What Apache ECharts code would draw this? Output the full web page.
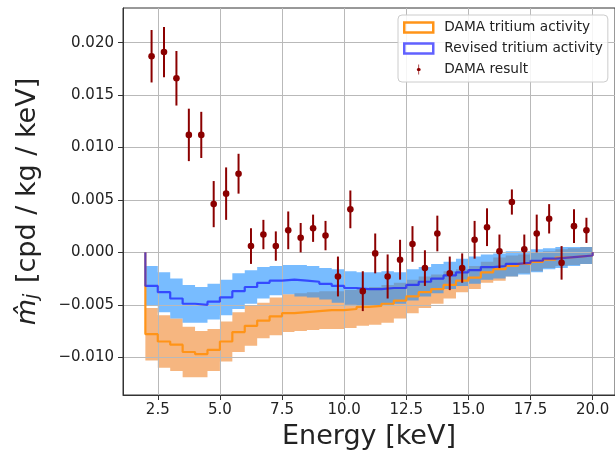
<!DOCTYPE html>
<html>
<head>
<meta charset="utf-8">
<title>DAMA modulation vs tritium</title>
<script src="https://cdn.jsdelivr.net/npm/echarts@6/dist/echarts.min.js"></script>
<style>
  *{margin:0;padding:0;}
  body{background:#fff;}
  #chart{width:615px;height:455px;}
</style>
</head>
<body>
<div id="chart"></div>
<script>
// bin centres [keV], bins are 0.5 keV wide
var energy = [2.25, 2.75, 3.25, 3.75, 4.25, 4.75, 5.25, 5.75, 6.25, 6.75, 7.25, 7.75,
              8.25, 8.75, 9.25, 9.75, 10.25, 10.75, 11.25, 11.75, 12.25, 12.75, 13.25, 13.75,
              14.25, 14.75, 15.25, 15.75, 16.25, 16.75, 17.25, 17.75, 18.25, 18.75, 19.25, 19.75];
var binHalf = 0.25;

// DAMA modulation amplitudes
var damaRate = [0.0187, 0.0191, 0.0166, 0.0112, 0.0112, 0.0046, 0.0056, 0.0075, 0.0006, 0.0017, 0.0006, 0.0021,
                0.0014, 0.0023, 0.0016, -0.0023, 0.0041, -0.0037, -0.0001, -0.0023, -0.0007, 0.0008, -0.0015, 0.0018,
                -0.0020, -0.0015, 0.0012, 0.0024, 0.0001, 0.0048, 0.0003, 0.0018, 0.0032, -0.0010, 0.0025, 0.0021];
var damaErr = [0.0025, 0.0024, 0.0026, 0.0025, 0.0022, 0.0022, 0.0025, 0.0019, 0.0017, 0.0014, 0.0014, 0.0018,
               0.0014, 0.0013, 0.0014, 0.0019, 0.0018, 0.0019, 0.0019, 0.0021, 0.0019, 0.0017, 0.0017, 0.0017,
               0.0016, 0.0014, 0.0018, 0.0018, 0.0016, 0.0012, 0.0014, 0.0018, 0.0014, 0.0016, 0.0016, 0.0012];

// tritium expectation with DAMA activity
var damaTritium = [-0.0078, -0.0085, -0.0088, -0.0095, -0.0097, -0.0093, -0.0085, -0.0076, -0.0070, -0.0065, -0.0061, -0.0058,
                   -0.0057, -0.0056, -0.0055, -0.0055, -0.0054, -0.0052, -0.0051, -0.0049, -0.0046, -0.0042, -0.0038, -0.0035,
                   -0.0031, -0.0027, -0.0024, -0.0019, -0.0016, -0.0013, -0.0011, -0.0009, -0.0007, -0.0005, -0.0004, -0.0003];
var damaTritiumErr = [0.0025, 0.0025, 0.0025, 0.0024, 0.0022, 0.0020, 0.0019, 0.0019, 0.0019, 0.0017, 0.0018, 0.0018,
                      0.0018, 0.0018, 0.0018, 0.0018, 0.0018, 0.0018, 0.0018, 0.0018, 0.0017, 0.0016, 0.0015, 0.0014,
                      0.0013, 0.0011, 0.0011, 0.0010, 0.0011, 0.0010, 0.0009, 0.0009, 0.0008, 0.0008, 0.0008, 0.0008];

// tritium expectation with revised activity
var revisedTritium = [-0.0032, -0.0038, -0.0044, -0.0049, -0.0050, -0.0047, -0.0043, -0.0037, -0.0033, -0.0029, -0.0027, -0.0026,
                      -0.0027, -0.0028, -0.0030, -0.0032, -0.0034, -0.0035, -0.0035, -0.0034, -0.0034, -0.0031, -0.0028, -0.0025,
                      -0.0022, -0.0019, -0.0017, -0.0014, -0.0013, -0.0011, -0.0010, -0.0008, -0.0006, -0.0005, -0.0004, -0.0003];
var revisedTritiumErr = [0.0019, 0.0019, 0.0019, 0.0018, 0.0017, 0.0017, 0.0017, 0.0017, 0.0016, 0.0015, 0.0014, 0.0014,
                         0.0015, 0.0015, 0.0015, 0.0016, 0.0016, 0.0016, 0.0016, 0.0016, 0.0015, 0.0015, 0.0014, 0.0014,
                         0.0013, 0.0013, 0.0013, 0.0012, 0.0012, 0.0012, 0.0011, 0.0011, 0.0010, 0.0010, 0.0009, 0.0008];

var xTicks = [2.5, 5, 7.5, 10, 12.5, 15, 17.5, 20];
var yTicks = [-0.010, -0.005, 0, 0.005, 0.010, 0.015, 0.020];

var FONT = 'DejaVu Sans';
var ORANGE = '#ff9418';
var BLUE = 'rgba(20,20,255,0.68)';
var DARKRED = '#8b0000';

// histogram style outline: starts and ends at zero
function stepLine(vals) {
    var pts = [[energy[0] - binHalf, 0]];
    for (var i = 0; i < energy.length; i++) {
        pts.push([energy[i] - binHalf, vals[i]]);
        pts.push([energy[i] + binHalf, vals[i]]);
    }
    pts.push([energy[energy.length - 1] + binHalf, 0]);
    return pts;
}

// filled step band drawn as one polygon
function bandSeries(vals, errs, fill, z) {
    return {
        type: 'custom',
        z: z,
        silent: true,
        clip: true,
        data: energy.map(function (e, i) { return [e, vals[i], errs[i]]; }),
        renderItem: function (params, api) {
            if (params.dataIndex !== 0) return null;
            var top = [], bot = [];
            for (var i = 0; i < energy.length; i++) {
                var x0 = energy[i] - binHalf, x1 = energy[i] + binHalf;
                top.push(api.coord([x0, vals[i] + errs[i]]), api.coord([x1, vals[i] + errs[i]]));
                bot.push(api.coord([x0, vals[i] - errs[i]]), api.coord([x1, vals[i] - errs[i]]));
            }
            return {
                type: 'polygon',
                shape: { points: top.concat(bot.reverse()) },
                style: { fill: fill }
            };
        }
    };
}

var chart = echarts.init(document.getElementById('chart'), null, { renderer: 'canvas' });

var option = {
    animation: false,
    backgroundColor: '#fff',
    grid: {
        left: 123, top: 8, width: 493, height: 389,
        show: true, borderColor: '#333', borderWidth: 1, backgroundColor: 'transparent'
    },
    legend: {
        orient: 'vertical',
        left: 398, top: 15,
        padding: [5, 5, 5, 5],
        itemWidth: 29, itemHeight: 10, itemGap: 6,
        backgroundColor: 'rgba(255,255,255,0.85)',
        borderColor: '#cccccc', borderWidth: 1, borderRadius: 4,
        selectedMode: false,
        textStyle: { fontFamily: FONT, fontSize: 13.7, color: '#222', lineHeight: 15, padding: [0, 0, 0, 6] },
        data: [
            { name: 'DAMA tritium activity', icon: 'rect',
              itemStyle: { color: 'rgba(0,0,0,0)', borderColor: ORANGE, borderWidth: 2.5 } },
            { name: 'Revised tritium activity', icon: 'rect',
              itemStyle: { color: 'rgba(0,0,0,0)', borderColor: 'rgba(80,80,255,0.9)', borderWidth: 2.5 } },
            { name: 'DAMA result',
              icon: 'path://M4.3,0h1.4v6.8a3.2,3.2 0 0 1 0,6.4v6.8h-1.4v-6.8a3.2,3.2 0 0 1 0,-6.4z',
              itemStyle: { color: DARKRED } }
        ]
    },
    xAxis: {
        type: 'value',
        min: 1.1, max: 20.9,
        name: 'Energy [keV]',
        nameLocation: 'middle',
        nameGap: 28,
        nameTextStyle: { fontFamily: FONT, fontSize: 27, color: '#222' },
        axisLine: { show: true, onZero: false, lineStyle: { color: '#333', width: 1 } },
        axisTick: { show: true, length: 5, customValues: xTicks, lineStyle: { color: '#333' } },
        axisLabel: {
            customValues: xTicks, margin: 8,
            fontFamily: FONT, fontSize: 15, color: '#222',
            formatter: function (v) { return v.toFixed(1); }
        },
        splitLine: { show: true, lineStyle: { color: '#b9b9b9', width: 1 } }
    },
    yAxis: {
        type: 'value',
        min: -0.0136, max: 0.0233,
        name: '{m|m\u0302}{j|j} [cpd / kg / keV]',
        nameLocation: 'middle',
        nameGap: 81,
        nameTextStyle: {
            fontFamily: FONT, fontSize: 27, color: '#222',
            rich: {
                m: { fontFamily: FONT, fontSize: 27, fontStyle: 'italic', color: '#222' },
                j: { fontFamily: FONT, fontSize: 19, fontStyle: 'italic', color: '#222',
                     verticalAlign: 'bottom', padding: [10, 2, 0, 0] }
            }
        },
        axisLine: { show: true, onZero: false, lineStyle: { color: '#333', width: 1 } },
        axisTick: { show: true, length: 5, customValues: yTicks, lineStyle: { color: '#333' } },
        axisLabel: {
            customValues: yTicks, margin: 9,
            fontFamily: FONT, fontSize: 15, color: '#222',
            formatter: function (v) {
                return (v < -1e-9 ? '\u2212' : '') + Math.abs(v).toFixed(3);
            }
        },
        splitLine: { show: true, lineStyle: { color: '#b9b9b9', width: 1 } }
    },
    series: [
        bandSeries(damaTritium, damaTritiumErr, '#f6b680', -2),
        bandSeries(revisedTritium, revisedTritiumErr, 'rgba(30,144,255,0.6)', -1),
        {
            name: 'DAMA tritium activity',
            type: 'line',
            data: stepLine(damaTritium),
            showSymbol: false, symbol: 'none',
            lineStyle: { color: ORANGE, width: 2.2 },
            itemStyle: { color: ORANGE },
            z: 3
        },
        {
            name: 'Revised tritium activity',
            type: 'line',
            data: stepLine(revisedTritium),
            showSymbol: false, symbol: 'none',
            lineStyle: { color: BLUE, width: 2.2 },
            itemStyle: { color: BLUE },
            z: 4
        },
        {
            name: 'DAMA result',
            type: 'custom',
            z: 5,
            itemStyle: { color: DARKRED },
            data: energy.map(function (e, i) { return [e, damaRate[i], damaErr[i]]; }),
            renderItem: function (params, api) {
                var x = api.value(0), v = api.value(1), e = api.value(2);
                var lo = api.coord([x, v - e]), hi = api.coord([x, v + e]), c = api.coord([x, v]);
                return {
                    type: 'group',
                    children: [
                        { type: 'line', shape: { x1: lo[0], y1: lo[1], x2: hi[0], y2: hi[1] },
                          style: { stroke: DARKRED, lineWidth: 2 } },
                        { type: 'circle', shape: { cx: c[0], cy: c[1], r: 3.3 },
                          style: { fill: DARKRED } }
                    ]
                };
            }
        }
    ]
};

chart.setOption(option);
</script>
</body>
</html>
